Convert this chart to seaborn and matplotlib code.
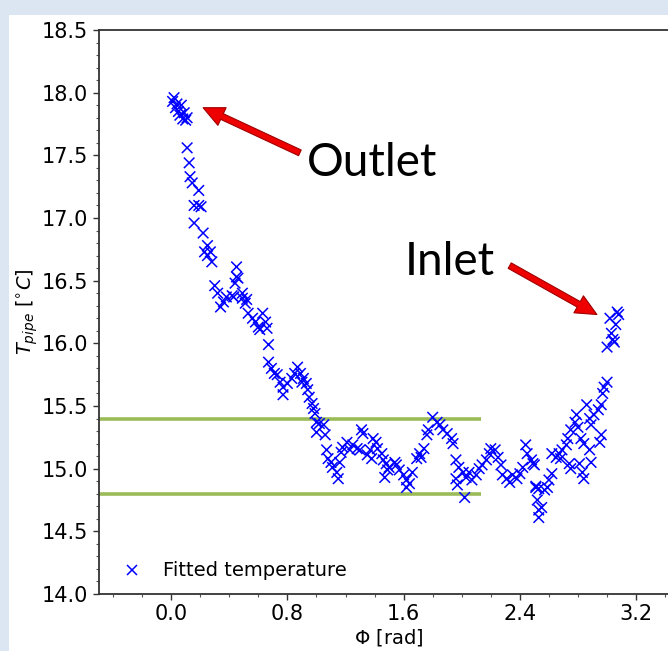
import numpy as np
import pandas as pd
import matplotlib
matplotlib.use("Agg")
import matplotlib.pyplot as plt
import seaborn as sns
from matplotlib.ticker import AutoMinorLocator, MultipleLocator
from matplotlib.patches import Rectangle

phi = [0.01, 0.02, 0.03, 0.04, 0.05, 0.06, 0.07, 0.08, 0.09, 0.10, 0.11,
       0.11, 0.124, 0.13, 0.145, 0.19, 0.158, 0.19, 0.206, 0.158, 0.22, 0.25, 0.23, 0.27, 0.28, 0.25,
       0.45, 0.45, 0.44, 0.30, 0.32, 0.38, 0.42, 0.49, 0.52, 0.36, 0.34,
       0.46, 0.43, 0.49, 0.51, 0.53, 0.56, 0.58, 0.63, 0.65, 0.66, 0.61, 0.60,
       0.67, 0.67, 0.69, 0.71, 0.73, 0.75, 0.77, 0.77, 0.80, 0.83, 0.87, 0.85, 0.89, 0.91, 0.90,
       0.93, 0.94, 0.95, 0.97, 0.98, 0.99, 1.00, 1.02, 1.05,
       1.00, 1.06, 1.07, 1.08, 1.10, 1.11, 1.14, 1.15, 1.16, 1.17, 1.18, 1.21, 1.23, 1.25, 1.28, 1.30,
       1.31, 1.32, 1.35, 1.37, 1.38, 1.39, 1.41, 1.42, 1.45, 1.46, 1.48, 1.50, 1.47, 1.49,
       1.54, 1.55, 1.57, 1.60, 1.62, 1.62, 1.64, 1.66, 1.69, 1.71, 1.74, 1.76, 1.77,
       1.80, 1.83, 1.85, 1.87, 1.90, 1.93, 1.94, 1.72, 1.96, 1.98, 2.01, 1.96, 1.97,
       2.03, 2.05, 2.07, 2.10, 2.12, 2.14, 2.17, 2.19, 2.20, 2.23, 2.25, 2.27, 2.28, 2.31, 2.33,
       2.35, 2.38, 2.40, 2.42, 2.44, 2.45, 2.48, 2.50, 2.02,
       2.51, 2.52, 2.53, 2.53, 2.49, 2.51, 2.53, 2.55, 2.57, 2.59, 2.60, 2.62, 2.62, 2.65, 2.67,
       2.68, 2.69, 2.72, 2.73, 2.74, 2.75, 2.75, 2.78, 2.79, 2.80, 2.81, 2.82, 2.83, 2.84, 2.84,
       2.86, 2.88, 2.88, 2.89, 2.89, 2.91, 2.94, 2.95, 2.96, 2.96, 2.97, 2.98, 3.00,
       3.00, 3.02, 3.03, 3.04, 3.05, 3.06, 3.07, 3.08]

temp = [17.93, 17.96, 17.88, 17.91, 17.85, 17.82, 17.90, 17.79, 17.84, 17.78, 17.80,
        17.56, 17.44, 17.33, 17.28, 17.22, 17.10, 17.10, 17.09, 16.96, 16.88, 16.78, 16.73, 16.73, 16.65, 16.70,
        16.61, 16.53, 16.48, 16.46, 16.40, 16.37, 16.38, 16.40, 16.35, 16.33, 16.29,
        16.52, 16.37, 16.36, 16.32, 16.24, 16.20, 16.17, 16.24, 16.17, 16.12, 16.11, 16.13,
        15.99, 15.85, 15.80, 15.76, 15.75, 15.69, 15.65, 15.59, 15.68, 15.72, 15.81, 15.76, 15.76, 15.72, 15.69,
        15.68, 15.63, 15.57, 15.52, 15.48, 15.44, 15.37, 15.36, 15.35,
        15.29, 15.27, 15.15, 15.08, 15.05, 15.01, 14.97, 14.92, 15.05, 15.13, 15.17, 15.21, 15.15, 15.19, 15.16, 15.15,
        15.31, 15.28, 15.11, 15.15, 15.08, 15.24, 15.21, 15.16, 15.12, 15.07, 15.04, 15.01, 14.93, 14.99,
        15.05, 15.03, 14.99, 14.95, 14.91, 14.85, 14.88, 14.97, 15.08, 15.12, 15.16, 15.27, 15.31,
        15.41, 15.37, 15.35, 15.31, 15.28, 15.24, 15.20, 15.09, 15.07, 15.01, 14.97, 14.92, 14.87,
        14.93, 14.97, 14.91, 14.95, 15.00, 15.03, 15.07, 15.12, 15.16, 15.15, 15.09, 15.03, 14.95, 14.92, 14.89,
        14.95, 14.92, 14.96, 15.01, 15.19, 15.12, 15.07, 15.03, 14.77,
        14.85, 14.75, 14.67, 14.61, 15.04, 14.86, 14.84, 14.69, 14.83, 14.85, 14.91, 14.96, 15.12, 15.09, 15.12,
        15.08, 15.15, 15.19, 15.24, 15.04, 15.00, 15.31, 15.37, 15.43, 15.33, 15.04, 15.24, 14.97, 14.92, 15.20,
        15.51, 15.40, 15.15, 15.35, 15.05, 15.43, 15.47, 15.21, 15.51, 15.27, 15.60, 15.65, 15.69,
        15.97, 16.20, 16.08, 16.03, 16.01, 16.15, 16.25, 16.23]

# reference lines
band_levels = [15.4, 14.8]
band_xmax = 2.13

df = pd.DataFrame({"phi": phi, "T": temp, "kind": "Fitted temperature"})

sns.set_style("ticks")
plt.rcParams["font.family"] = ["DejaVu Sans"]

fig = plt.figure(figsize=(6.68, 6.51), dpi=100, facecolor="#dce6f2")
bg = Rectangle((9 / 668, 0), 1, 1 - 15 / 651, transform=fig.transFigure,
               facecolor="white", edgecolor="none", zorder=-10)
fig.add_artist(bg)

left = 98.5 / 668
bottom = 1 - 594 / 651
top = 1 - 30 / 651
xmin, xmax = -0.5, 3.5
px_per_unit = 145.3
width = (xmax - xmin) * px_per_unit / 668
ax = fig.add_axes([left, bottom, width, top - bottom])
ax.set_zorder(1)

for yv in band_levels:
    ax.plot([xmin, band_xmax], [yv, yv], color="#9bbb59", lw=2.6, zorder=1, solid_capstyle="butt")

sns.scatterplot(data=df, x="phi", y="T", hue="kind", palette=["blue"], marker="x",
                s=58, linewidth=1.1, ax=ax, zorder=3)

ax.set_xlim(xmin, xmax)
ax.set_ylim(14.0, 18.5)
ax.xaxis.set_major_locator(MultipleLocator(0.8))
ax.xaxis.set_minor_locator(AutoMinorLocator(4))
ax.yaxis.set_major_locator(MultipleLocator(0.5))
ax.yaxis.set_minor_locator(AutoMinorLocator(5))
ax.set_xticks([0.0, 0.8, 1.6, 2.4, 3.2])
ax.set_xticklabels(["0.0", "0.8", "1.6", "2.4", "3.2"])
ax.tick_params(axis="both", which="major", labelsize=15, length=4, width=1,
               color="#333333", labelcolor="black")
ax.tick_params(axis="both", which="minor", length=2, width=0.8, color="#555555")
for sp in ax.spines.values():
    sp.set_linewidth(1.3)
    sp.set_color("#333333")

ax.set_xlabel(r"$\Phi$ [rad]", fontsize=14, labelpad=2, color="black")
ax.set_ylabel(r"$T_{pipe}$ [$^{\circ}C$]", fontsize=14, labelpad=1, color="black")

leg = ax.legend(loc="lower left", frameon=False, fontsize=14, handletextpad=0.6,
                borderaxespad=0.3, markerscale=1.0)
for t in leg.get_texts():
    t.set_color("black")

ax.annotate("", xy=(0.22, 17.88), xytext=(0.886, 17.52),
            arrowprops=dict(facecolor="#ee0000", edgecolor="#a00000", width=4.5,
                            headwidth=14, headlength=15, shrink=0, lw=0.8))
ax.annotate("", xy=(2.93, 16.23), xytext=(2.33, 16.62),
            arrowprops=dict(facecolor="#ee0000", edgecolor="#a00000", width=4.5,
                            headwidth=14, headlength=15, shrink=0, lw=0.8))
ax.text(1.38, 17.44, "Outlet", fontsize=33, family="Lato", ha="center", va="center", color="black")
ax.text(1.92, 16.65, "Inlet", fontsize=33, family="Lato", ha="center", va="center", color="black")

fig.savefig("out.png", dpi=100, facecolor=fig.get_facecolor())
